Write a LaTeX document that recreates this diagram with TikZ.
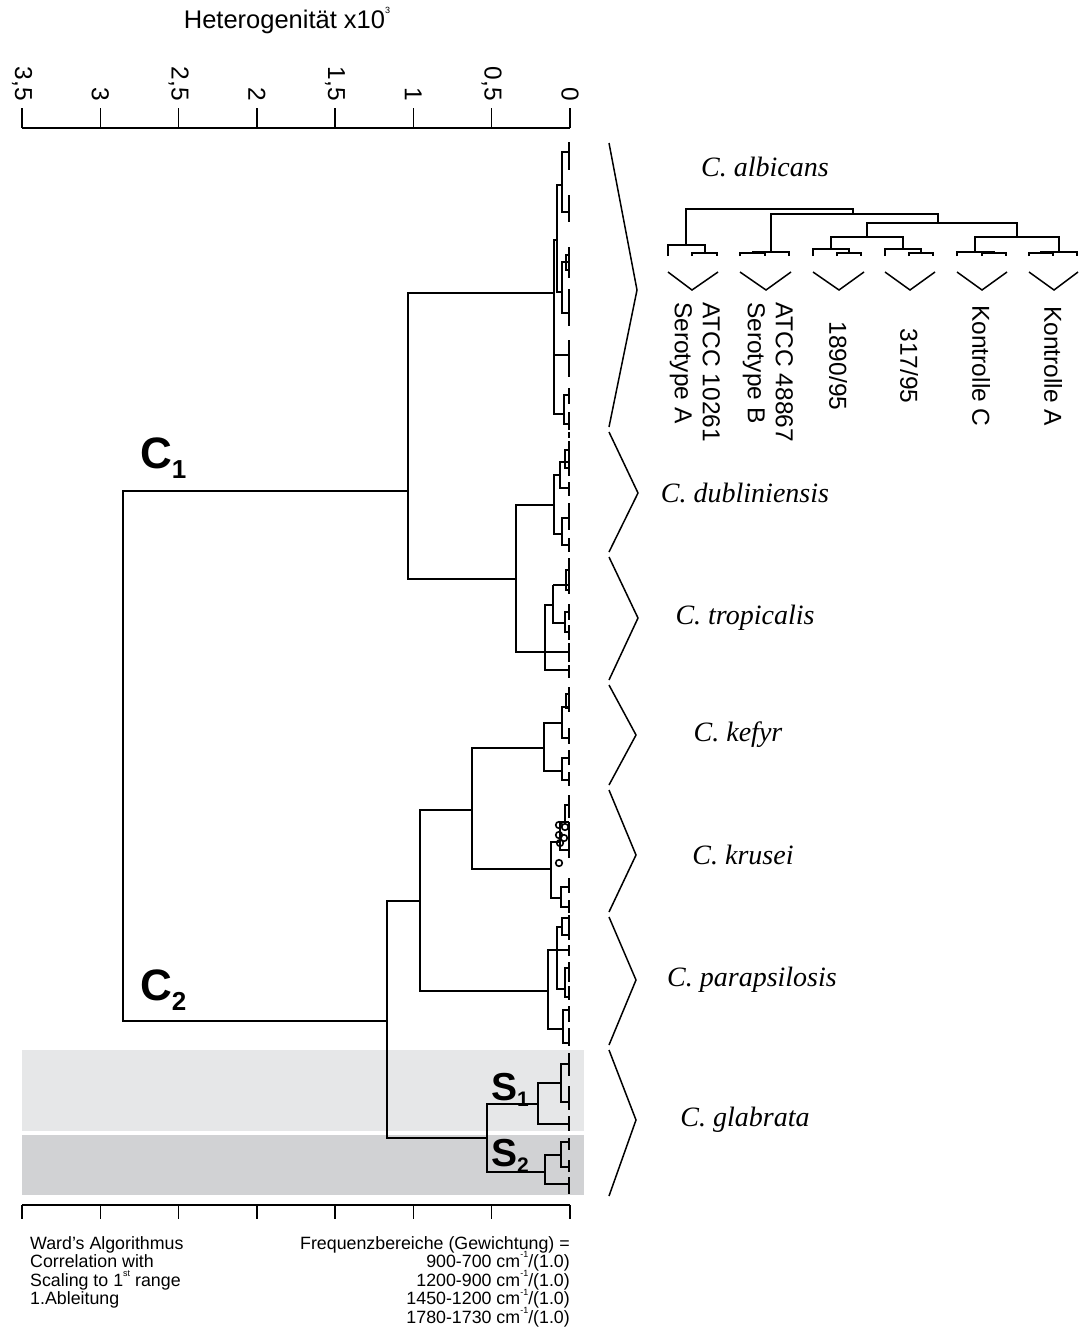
\documentclass[tikz,border=0pt]{standalone}
\usepackage{fontspec}
\setmainfont{Liberation Sans}
\newfontfamily\spfont{Liberation Serif}
\definecolor{bandlight}{HTML}{E6E7E8}
\definecolor{banddark}{HTML}{D1D2D4}
% small raised superscript that does not widen the line spacing
\newcommand\sups[1]{\smash{\raisebox{0.55em}{\fontsize{9}{9}\selectfont #1}}}
% bracket from a sub-cluster spine to the leaf column
\newcommand\subbr[3]{\draw[tree] (569,#2) -- (#1,#2) -- (#1,#3) -- (569,#3);}
% short leaf dash in the leaf column
\newcommand\leafdash[2]{\draw[tree] (569,#1) -- (569,#2);}
\begin{document}
\begin{tikzpicture}[x=1pt,y=-1pt,
  tree/.style={line width=1.4pt, line join=miter},
  axisln/.style={line width=1.3pt},
  chev/.style={line width=1.5pt, line join=miter},
  ticklab/.style={rotate=-90, anchor=east, inner sep=0pt, font=\fontsize{24.5}{24.5}\selectfont},
  species/.style={inner sep=0pt, font=\spfont\itshape\fontsize{28}{32}\selectfont},
  strain/.style={rotate=-90, inner sep=0pt, font=\fontsize{24.5}{28}\selectfont},
  note/.style={inner sep=0pt, font=\fontsize{17.8}{18.6}\selectfont},
  clab/.style={inner sep=0pt, anchor=base west, font=\bfseries}]
\useasboundingbox (0,0) rectangle (1081,1342);
\fill[white] (0,0) rectangle (1081,1342);

% shaded subgroup bands
\fill[bandlight] (22,1050) rectangle (584,1131);
\fill[banddark] (22,1135) rectangle (584,1195);

% title and top axis
\node[anchor=base, inner sep=0pt, font=\fontsize{25.5}{25.5}\selectfont] (title) at (287,28) {Heterogenität x10\sups{3}};
\draw[axisln] (22,128) -- (570,128);
\foreach \px/\lab [count=\i] in {570/0, 491.7/{0,5}, 413.4/1, 335.1/{1,5}, 256.9/2, 178.6/{2,5}, 100.3/3, 22/{3,5}} {
  \draw[axisln] (\px,108) -- (\px,128);
  \node[ticklab] (tick\i) at (\px,101) {\lab};
}

% bottom axis
\draw[axisln] (22,1205) -- (570,1205);
\foreach \px in {570, 491.7, 413.4, 335.1, 256.9, 178.6, 100.3, 22} {
  \draw[axisln] (\px,1205) -- (\px,1219);
}

% main dendrogram skeleton
\draw[tree] (408,491) -- (123,491) -- (123,1021) -- (387,1021);
\draw[tree] (554,293) -- (408,293) -- (408,579) -- (516,579);
\draw[tree] (554,505) -- (516,505) -- (516,652) -- (569,652);
\draw[tree] (420,901) -- (387,901) -- (387,1138) -- (487,1138);
\draw[tree] (472,810) -- (420,810) -- (420,991) -- (548,991);
\draw[tree] (544,748) -- (472,748) -- (472,869) -- (551,869);

% C. albicans
\draw[tree] (557,240) -- (554,240) -- (554,414) -- (564,414);
\draw[tree] (554,355) -- (569,355);
\draw[tree] (562,185) -- (557,185) -- (557,292) -- (562,292);
\subbr{562}{152}{212} \leafdash{142}{170} \leafdash{195}{222}
\subbr{562}{262}{313} \subbr{566}{255}{270} \leafdash{247}{278} \leafdash{289}{326}
\leafdash{340}{377}
\subbr{564}{395}{424} \leafdash{388}{404} \leafdash{412}{430}
\leafdash{432}{438}

% C. dubliniensis
\draw[tree] (560,475) -- (554,475) -- (554,534) -- (562,534);
\subbr{560}{462}{488} \subbr{565}{450}{468} \leafdash{441}{476} \leafdash{482}{496}
\subbr{562}{518}{545} \leafdash{503}{530} \leafdash{538}{552}

% C. tropicalis
\draw[tree] (553,605) -- (545,605) -- (545,670) -- (569,670);
\draw[tree] (553,585) -- (553,623) -- (565,623);
\draw[tree] (553,585) -- (569,585);
\subbr{566}{570}{590} \leafdash{558}{594}
\subbr{565}{612}{632} \leafdash{604}{620} \leafdash{625}{640}
\leafdash{643}{662} \leafdash{665}{678}

% C. kefyr
\draw[tree] (562,723) -- (544,723) -- (544,771) -- (562,771);
\subbr{562}{707}{738} \subbr{566}{694}{708} \leafdash{687}{712} \leafdash{728}{744}
\subbr{562}{758}{780} \leafdash{750}{765} \leafdash{772}{786}

% C. krusei
\draw[tree] (560,842) -- (551,842) -- (551,898) -- (561,898);
\subbr{560}{822}{850} \subbr{565}{805}{822} \leafdash{795}{818} \leafdash{822}{858}
\subbr{561}{887}{907} \leafdash{878}{893} \leafdash{900}{913}
\foreach \cx/\cy in {559/825, 565/827, 559/835, 564/838, 560/843, 559/863}
  \draw[line width=1.6pt] (\cx,\cy) circle[radius=3.3pt];

% C. parapsilosis
\draw[tree] (557,950) -- (548,950) -- (548,1029) -- (563,1029);
\draw[tree] (562,927) -- (557,927) -- (557,989) -- (565,989);
\draw[tree] (557,950) -- (569,950);
\subbr{562}{918}{935} \leafdash{915}{940} \leafdash{945}{956}
\subbr{565}{968}{997} \leafdash{962}{982} \leafdash{986}{1000}
\subbr{563}{1010}{1043} \leafdash{1006}{1022} \leafdash{1028}{1046}

% C. glabrata with subgroups S1 and S2
\draw[tree] (538,1104) -- (487,1104) -- (487,1172) -- (545,1172);
\draw[tree] (561,1083) -- (538,1083) -- (538,1124) -- (569,1124);
\subbr{561}{1064}{1102} \leafdash{1053}{1076} \leafdash{1086}{1110} \leafdash{1116}{1131}
\draw[tree] (561,1155) -- (545,1155) -- (545,1184) -- (569,1184);
\subbr{561}{1142}{1167} \leafdash{1138}{1150} \leafdash{1160}{1172} \leafdash{1177}{1194}

% cluster labels
\node[clab] (c1) at (140,468) {\fontsize{44}{44}\selectfont C\raisebox{-10pt}{\fontsize{26}{26}\selectfont 1}};
\node[clab] (c2) at (140,1000) {\fontsize{44}{44}\selectfont C\raisebox{-10pt}{\fontsize{26}{26}\selectfont 2}};
\node[clab] (s1) at (491,1100) {\fontsize{39}{39}\selectfont S\raisebox{-6pt}{\fontsize{21}{21}\selectfont 1}};
\node[clab] (s2) at (491,1166) {\fontsize{39}{39}\selectfont S\raisebox{-6pt}{\fontsize{21}{21}\selectfont 2}};

% species brackets
\draw[chev] (609,143) -- (637,290) -- (609,427);
\draw[chev] (609,432) -- (638,493) -- (609,552);
\draw[chev] (609,557) -- (638,618) -- (609,680);
\draw[chev] (609,685) -- (636,735) -- (609,785);
\draw[chev] (609,790) -- (636,855) -- (609,912);
\draw[chev] (609,917) -- (636,980) -- (609,1045);
\draw[chev] (609,1050) -- (636,1120) -- (609,1196);

% species names
\node[species] (alb) at (765,167) {C. albicans};
\node[species] (dub) at (745,493) {C. dubliniensis};
\node[species] (tro) at (745,618) {C. tropicalis};
\node[species] (kef) at (738,735) {C. kefyr};
\node[species] (kru) at (743,855) {C. krusei};
\node[species] (par) at (752,980) {C. parapsilosis};
\node[species] (gla) at (745,1120) {C. glabrata};

% C. albicans strain tree
\draw[tree] (686,245) -- (686,209) -- (853,209) -- (853,214);
\draw[tree] (771,252) -- (771,214) -- (938,214) -- (938,223);
\draw[tree] (867,237) -- (867,223) -- (1017,223) -- (1017,237);
\draw[tree] (831,249) -- (831,237) -- (903,237) -- (903,249);
\draw[tree] (975,252) -- (975,237) -- (1059,237) -- (1059,252);
% strain groups
\draw[tree] (668,256) -- (668,245) -- (705,245) -- (705,253);
\draw[tree] (692,256) -- (692,253) -- (717,253) -- (717,256);
\draw[tree] (753,253) -- (753,252) -- (789,252) -- (789,256);
\draw[tree] (740,256) -- (740,253) -- (765,253) -- (765,256);
\draw[tree] (813,256) -- (813,249) -- (849,249) -- (849,253);
\draw[tree] (837,256) -- (837,253) -- (861,253) -- (861,256);
\draw[tree] (885,256) -- (885,249) -- (921,249) -- (921,253);
\draw[tree] (909,256) -- (909,253) -- (933,253) -- (933,256);
\draw[tree] (957,256) -- (957,252) -- (994,252) -- (994,253);
\draw[tree] (982,256) -- (982,253) -- (1006,253) -- (1006,256);
\draw[tree] (1041,253) -- (1041,252) -- (1077,252) -- (1077,256);
\draw[tree] (1029,256) -- (1029,253) -- (1053,253) -- (1053,256);
% strain brackets
\foreach \l/\t/\r in {668/692/718, 740/766/791, 813/839/864, 885/910/935, 957/982/1007, 1029/1054/1078}
  \draw[chev] (\l,272) -- (\t,290) -- (\r,272);
% strain names
\node[strain, anchor=west, align=left] (st1) at (695,302) {ATCC 10261\\Serotype A};
\node[strain, anchor=west, align=left] (st2) at (768,302) {ATCC 48867\\Serotype B};
\node[strain] (st3) at (838,366) {1890/95};
\node[strain] (st4) at (909,366) {317/95};
\node[strain] (st5) at (981,366) {Kontrolle C};
\node[strain] (st6) at (1053,366) {Kontrolle A};

% method notes
\node[note, anchor=north west, align=left] (method) at (30,1236) {Ward’s Algorithmus\\Correlation with\\Scaling to 1\sups{st} range\\1.Ableitung};
\node[note, anchor=north east, align=right] (freq) at (570,1236) {Frequenzbereiche (Gewichtung) =\\900-700 cm\sups{-1}/(1.0)\\1200-900 cm\sups{-1}/(1.0)\\1450-1200 cm\sups{-1}/(1.0)\\1780-1730 cm\sups{-1}/(1.0)};
\end{tikzpicture}
\end{document}
